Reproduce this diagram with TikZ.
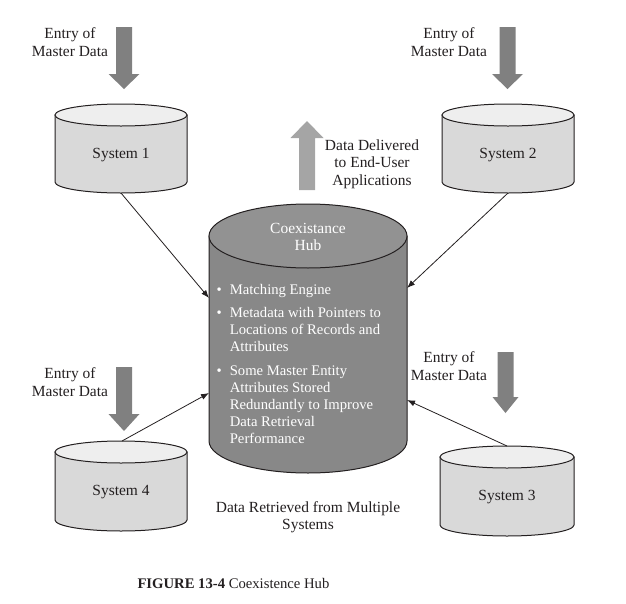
\documentclass[tikz,border=0pt]{standalone}
\usepackage{fontspec}
\setmainfont{Liberation Serif}
\usetikzlibrary{arrows.meta}

\definecolor{sysside}{RGB}{217,217,217}
\definecolor{systop}{RGB}{238,238,238}
\definecolor{hubside}{RGB}{136,136,136}
\definecolor{hubtop}{RGB}{146,146,146}
\definecolor{feedgray}{RGB}{128,128,128}
\definecolor{outgray}{RGB}{165,165,165}
\definecolor{inkgray}{RGB}{35,31,32}

\tikzset{every picture/.style={line width=0.75pt}}
\tikzset{
  txt/.style={font=\fontsize{11.6}{13}\selectfont, text=inkgray, align=center, inner sep=0pt},
  hubtxt/.style={font=\fontsize{11}{12.8}\selectfont, text=white, align=left, inner sep=0pt},
  conn/.style={draw=inkgray, line width=0.6pt, -{Latex[length=6pt,width=4.5pt]}}
}

% cylinder: centre x, top y, bottom y, x radius, y radius, side colour, top colour
\newcommand{\dbcyl}[7]{%
  \draw[draw=inkgray, fill=#6] (#1-#4,#2) -- (#1-#4,#3) arc[start angle=180, end angle=0, x radius=#4, y radius=#5] -- (#1+#4,#2) -- cycle;
  \draw[draw=inkgray, fill=#7] (#1,#2) ellipse[x radius=#4, y radius=#5];
}
% block arrow: colour, centre x, tail y, head base y, tip y, head half width
\newcommand{\blockarrow}[6]{%
  \fill[#1] (#2-8,#3) -- (#2+8,#3) -- (#2+8,#4) -- (#2+#6,#4) -- (#2,#5) -- (#2-#6,#4) -- (#2-8,#4) -- cycle;
}

\begin{document}
\begin{tikzpicture}[x=0.75pt,y=0.75pt,yscale=-1,xscale=1]
\useasboundingbox (0,0) rectangle (626,604);

%Shape: Cylinders
\dbcyl{121}{115}{182}{66}{11}{sysside}{systop}
\dbcyl{508}{115}{182}{66}{11}{sysside}{systop}
\dbcyl{121}{452}{520}{66}{11}{sysside}{systop}
\dbcyl{507}{457}{525}{67}{11}{sysside}{systop}
\dbcyl{308}{236}{441}{99}{32}{hubside}{hubtop}

%Shape: Block arrows
\blockarrow{feedgray}{124}{27}{74}{89}{15.5}
\blockarrow{feedgray}{507.5}{27}{74}{89}{15.5}
\blockarrow{feedgray}{124}{367}{414}{431}{15.5}
\blockarrow{feedgray}{505.5}{352}{397}{413}{13}
\blockarrow{outgray}{307}{190}{138}{121}{16.5}

% connector ends
\coordinate (s1out) at (121,193);
\coordinate (s2out) at (508,193);
\coordinate (s4out) at (122,441);
\coordinate (s3out) at (507,446);
\coordinate (hubin1) at (209,298);
\coordinate (hubin2) at (407,288);
\coordinate (hubin4) at (209,393);
\coordinate (hubin3) at (407,400);

% Text Node
\node[txt] (entry1) at (70,42) {Entry of\\Master Data};
\node[txt] (entry2) at (449,42) {Entry of\\Master Data};
\node[txt] (entry4) at (70,382) {Entry of\\Master Data};
\node[txt] (entry3) at (449,366) {Entry of\\Master Data};
\node[txt] (sys1) at (121,155) {System 1};
\node[txt] (sys2) at (508,155) {System 2};
\node[txt] (sys4) at (121,492) {System 4};
\node[txt] (sys3) at (507,497) {System 3};
\node[txt] (deliver) at (372,164) {Data Delivered\\to End-User\\Applications};
\node[txt] (retrieve) at (308,517) {Data Retrieved from Multiple\\Systems};
\node[txt, text=white] (hubname) at (308,237) {Coexistance\\Hub};
\node[hubtxt, anchor=west] (hublist) at (216,364) {%
  \makebox[10pt][l]{\textbullet}Matching Engine\\[5pt]
  \makebox[10pt][l]{\textbullet}Metadata with Pointers to\\
  \hspace*{10pt}Locations of Records and\\
  \hspace*{10pt}Attributes\\[5pt]
  \makebox[10pt][l]{\textbullet}Some Master Entity\\
  \hspace*{10pt}Attributes Stored\\
  \hspace*{10pt}Redundantly to Improve\\
  \hspace*{10pt}Data Retrieval\\
  \hspace*{10pt}Performance};
\node[txt, font=\fontsize{11}{12}\selectfont, anchor=west] (caption) at (137,583) {\textbf{FIGURE 13-4} Coexistence Hub};

%Straight Lines
\draw[conn] (s1out) -- (hubin1);
\draw[conn] (s2out) -- (hubin2);
\draw[conn] (s4out) -- (hubin4);
\draw[conn] (s3out) -- (hubin3);

\end{tikzpicture}
\end{document}
